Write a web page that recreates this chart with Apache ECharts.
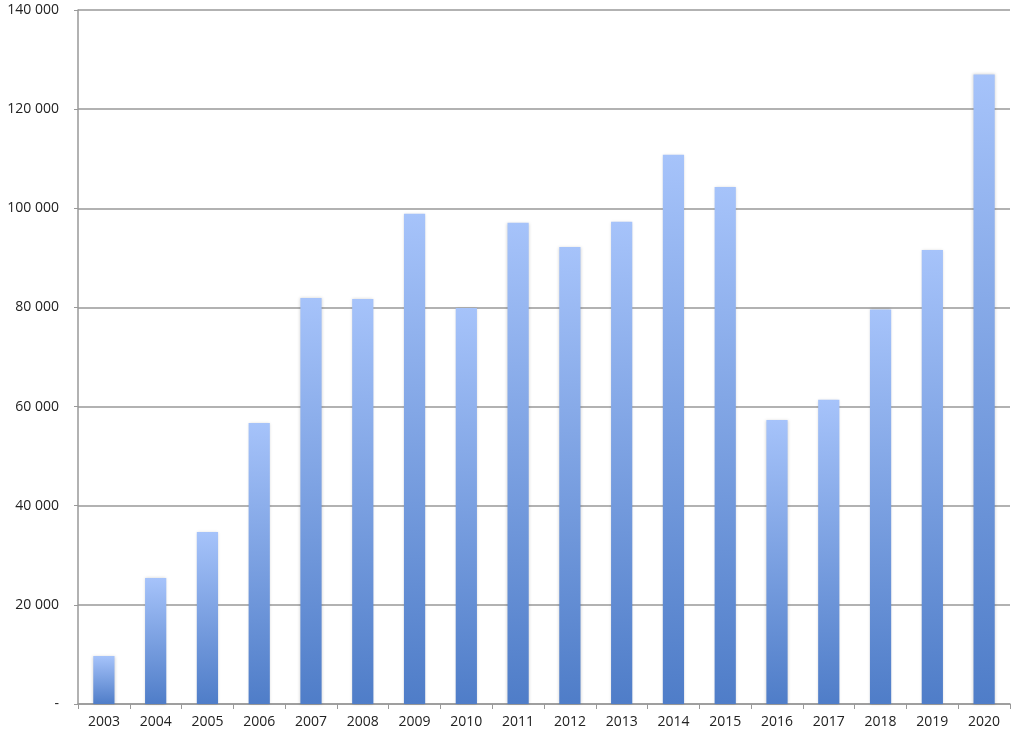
<!DOCTYPE html>
<html><head><meta charset="utf-8">
<script src="https://cdn.jsdelivr.net/npm/echarts@6/dist/echarts.min.js"></script>
<style>html,body{margin:0;padding:0;background:#fff}#c{width:1024px;height:738px}</style>
</head><body><div id="c"></div>
<script>
const years = ['2003','2004','2005','2006','2007','2008','2009','2010','2011','2012','2013','2014','2015','2016','2017','2018','2019','2020'];
const values = [9700, 25400, 34700, 56700, 81900, 81700, 98900, 79900, 97100, 92200, 97300, 110800, 104300, 57300, 61400, 79600, 91600, 127000];

const chart = echarts.init(document.getElementById('c'), null, {renderer:'canvas'});
chart.setOption({
  animation: false,
  grid: {left: 78, right: 14, top: 10, bottom: 34, containLabel: false},
  xAxis: {
    type: 'category', data: years,
    axisLine: {lineStyle: {color: '#999', width: 1.5}},
    axisTick: {show: true, length: 5, alignWithLabel: false, lineStyle: {color: '#999'}},
    axisLabel: {color: '#222', fontSize: 14, fontFamily: 'Open Sans', margin: 11}
  },
  yAxis: {
    type: 'value', min: 0, max: 140000, interval: 20000,
    axisLine: {show: true, lineStyle: {color: '#999', width: 1.5}},
    axisTick: {show: true, length: 4, lineStyle: {color: '#999'}},
    splitLine: {lineStyle: {color: '#999', width: 1.5}},
    axisLabel: {
      color: '#222', fontSize: 14, fontFamily: 'Open Sans', margin: 19,
      formatter: v => v === 0 ? '-' : String(v).replace(/\B(?=(\d{3})+(?!\d))/g, ' ')
    }
  },
  series: [{
    type: 'bar', data: values, barWidth: '41%',
    itemStyle: {
      color: new echarts.graphic.LinearGradient(0, 0, 0, 1, [
        {offset: 0, color: '#a6c3fa'},
        {offset: 1, color: '#4f7dc8'}
      ]),
      shadowBlur: 3, shadowColor: 'rgba(0,0,0,0.18)'
    }
  }]
});
</script></body></html>
